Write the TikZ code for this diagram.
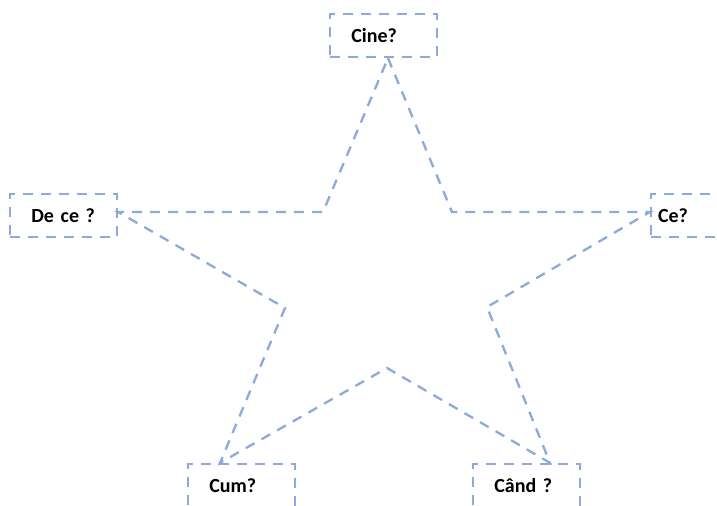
\documentclass[tikz,border=0pt]{standalone}
\usepackage{fontspec}
\setmainfont{Carlito}
\usetikzlibrary{calc}

\definecolor{starblue}{HTML}{8EAADB}

\tikzset{
    starline/.style = {draw = starblue, line width = 1.75pt, dash pattern = on 7.5pt off 6pt},
    questionbox/.style = {starline, minimum width = 80.25pt, minimum height = 32.25pt, inner xsep = 16pt, text width = 48.25pt, align = left, font = \fontsize{15}{18}\selectfont\bfseries}
}

\begin{document}
\begin{tikzpicture}[x = .75pt, y = -.75pt]
    \useasboundingbox (0, 0) rectangle (717, 506);

    % casetele cu intrebari
    \node [questionbox] (cine) at (383.5, 35.5) {Cine?};
    \node [questionbox] (dece) at (63.5, 215.5) {De ce ?};
    \node [questionbox, inner xsep = 5.25pt, text width = 69.75pt] (ce) at (704.5, 215.5) {Ce?};
    \node [questionbox] (cum) at (241.5, 485.5) {Cum?};
    \node [questionbox] (cand) at (526.5, 485.5) {Când ?};

    % varfurile interioare ale stelei
    \coordinate (in top left)     at (323, 212);
    \coordinate (in top right)    at (452, 212);
    \coordinate (in bottom right) at (487, 307);
    \coordinate (in bottom)       at (387, 368);
    \coordinate (in bottom left)  at (285, 308);

    % steaua
    \draw [starline] ($(cine.south) + (4.5, 0)$) -- (in top right) -- ($(ce.west) + (0, -3.5)$)
        -- (in bottom right) -- ($(cand.north) + (23.5, 0)$) -- (in bottom)
        -- ($(cum.north) + (-21.5, 0)$) -- (in bottom left) -- ($(dece.east) + (0, -3.5)$)
        -- (in top left) -- cycle;
\end{tikzpicture}
\end{document}
